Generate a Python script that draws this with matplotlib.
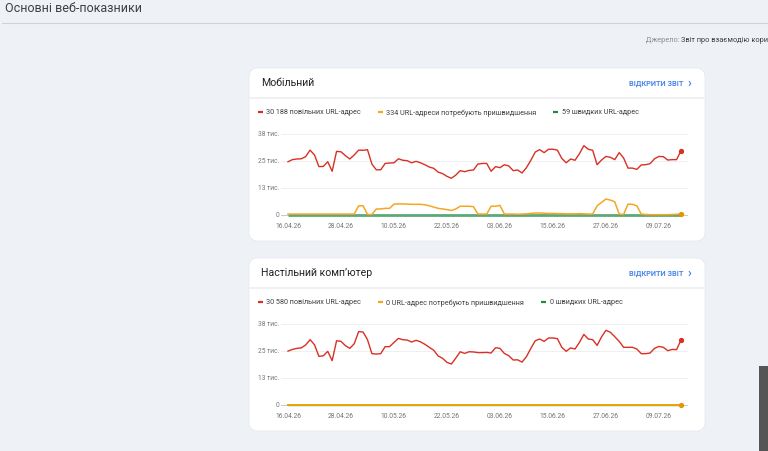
import matplotlib
matplotlib.use("Agg")
import matplotlib.pyplot as plt
from matplotlib.patches import FancyBboxPatch, Rectangle
import numpy as np

plt.rcParams['font.family'] = ['Roboto', 'DejaVu Sans']

# ---------------- data ----------------
x_tick_labels = ["16.04.26", "28.04.26", "10.05.26", "22.05.26",
                 "03.06.26", "15.06.26", "27.06.26", "09.07.26"]
y_tick_labels = ["0", "13 тис.", "25 тис.", "38 тис."]
y_tick_values = [0, 12700, 25400, 38100]

mobile_slow = [25.0, 26.0, 26.3, 26.4, 27.4, 30.5, 28.2, 22.7, 22.8, 25.0,
               20.5, 29.9, 29.7, 27.9, 26.3, 28.2, 30.5, 30.4, 30.7, 23.9,
               21.2, 21.2, 24.2, 24.4, 24.5, 26.4, 25.7, 25.5, 24.5, 25.2,
               24.5, 23.6, 22.5, 21.9, 20.1, 19.4, 18.1, 17.2, 18.7, 20.8,
               20.3, 20.9, 21.1, 23.9, 24.2, 24.2, 20.5, 22.7, 22.2, 23.6,
               23.0, 20.8, 21.1, 19.7, 22.2, 25.7, 29.6, 30.7, 29.3, 30.9,
               30.9, 30.5, 26.6, 24.5, 26.3, 25.7, 28.8, 32.6, 30.9, 30.4,
               23.6, 25.8, 27.5, 27.1, 26.0, 29.3, 26.8, 22.0, 22.0, 21.4,
               23.5, 23.6, 24.1, 26.4, 27.5, 27.4, 25.8, 26.0, 26.0, 30.188]
mobile_needs = [0.3, 0.3, 0.3, 0.3, 0.3, 0.3, 0.3, 0.3, 0.3, 0.3,
                0.3, 0.3, 0.3, 0.3, 0.3, 0.3, 4.2, 4.2, 0.1, 0.1,
                2.7, 2.7, 3.0, 3.0, 5.0, 5.1, 5.1, 5.0, 4.9, 4.9,
                4.9, 4.7, 4.2, 3.6, 3.0, 2.7, 2.4, 2.0, 2.7, 4.0,
                4.0, 4.0, 3.8, 0.3, 0.3, 0.3, 4.0, 4.0, 4.4, 0.3,
                0.3, 0.3, 0.2, 0.3, 0.4, 0.6, 0.8, 0.8, 0.7, 0.6,
                0.6, 0.5, 0.5, 0.4, 0.4, 0.4, 0.5, 0.4, 0.3, 0.3,
                4.2, 5.8, 7.4, 6.9, 6.1, 0.3, 0.1, 5.0, 4.9, 4.2,
                0.3, 0.1, 0.0, 0.0, 0.0, 0.0, 0.0, 0.1, 0.2, 0.334]
mobile_fast = [0.06] * 90

desktop_slow = [25.3, 26.1, 26.6, 26.8, 28.2, 30.7, 28.3, 22.8, 23.1, 25.2,
                20.8, 30.2, 29.9, 27.9, 26.6, 28.8, 34.5, 34.3, 30.7, 24.1,
                23.9, 24.1, 27.4, 27.4, 29.4, 31.3, 30.7, 30.5, 29.6, 30.4,
                29.7, 28.5, 27.1, 25.7, 23.0, 21.9, 20.0, 19.2, 22.0, 25.0,
                24.2, 25.0, 24.9, 24.6, 24.6, 24.7, 24.4, 26.9, 26.6, 24.2,
                23.1, 21.1, 21.2, 20.1, 22.7, 26.6, 30.2, 31.0, 29.9, 31.5,
                31.5, 31.2, 27.1, 25.2, 26.8, 26.3, 29.4, 33.2, 31.0, 30.7,
                28.0, 32.0, 35.1, 34.2, 32.1, 29.9, 27.1, 27.1, 27.1, 26.3,
                24.1, 24.1, 24.4, 26.6, 27.5, 27.1, 25.5, 26.1, 26.0, 30.58]
desktop_needs = [0.0] * 90
desktop_fast = [0.0] * 90

cards = [
    dict(title="Мобільний",
         legend=["30 188 повільних URL-адрес",
                 "334 URL-адреси потребують пришвидшення",
                 "59 швидких URL-адрес"],
         slow=mobile_slow, needs=mobile_needs, fast=mobile_fast),
    dict(title="Настільний комп’ютер",
         legend=["30 580 повільних URL-адрес",
                 "0 URL-адрес потребують пришвидшення",
                 "0 швидких URL-адрес"],
         slow=desktop_slow, needs=desktop_needs, fast=desktop_fast),
]

# ---------------- style ----------------
BG = "#eef1f6"
RED = "#d93025"
ORANGE = "#f5a623"
GREEN = "#5aa977"
BLUE = "#4a86e8"
GRAY_TXT = "#757575"

W, H = 768, 452
fig = plt.figure(figsize=(W / 100, H / 100), dpi=100, facecolor=BG)

bg = fig.add_axes([0, 0, 1, 1])
bg.set_xlim(0, W)
bg.set_ylim(H, 0)
bg.axis("off")
bg.set_facecolor(BG)

bg.text(5, 9, "Основні веб-показники", fontsize=9.0, color="#3c4043",
        va="center", ha="left")
bg.plot([2, W], [24, 24], color="#cfd3d8", lw=0.8)
t1 = bg.text(646, 41, "Джерело: ", fontsize=5.3, color="#8a8f94",
             va="center", ha="left")
bg.annotate("Звіт про взаємодію кори", xy=(1, 0.5),
            xycoords=t1, fontsize=5.3, color="#3c4043", va="center",
            ha="left", annotation_clip=False)

# scroll widget
bg.add_patch(Rectangle((759, 367), 10, 90, color="#555555", lw=0))

card_tops = [69, 259]
card_x, card_w, card_h = 249, 456, 173

for ci, (card, top) in enumerate(zip(cards, card_tops)):
    bg.add_patch(FancyBboxPatch((card_x, top), card_w, card_h,
                                boxstyle="round,pad=0,rounding_size=9",
                                facecolor="white", edgecolor="#e4e7eb",
                                lw=0.5))
    bg.text(261, top + 14, card["title"], fontsize=7.6, color="#202124",
            va="center", ha="left")
    bg.text(629, top + 15, "ВІДКРИТИ ЗВІТ", fontsize=5.3, color=BLUE,
            va="center", ha="left", fontweight="bold")
    bg.text(687, top + 15, "›", fontsize=9, color=BLUE, va="center",
            ha="left", fontweight="bold")
    bg.plot([card_x, card_x + card_w], [top + 30, top + 30],
            color="#eceef1", lw=1.2)

    # legend
    ly = top + 44
    lx = [258, 378, 553 if ci == 0 else 541]
    for lab, col, x0 in zip(card["legend"], [RED, ORANGE, "#1e8e3e"], lx):
        bg.plot([x0, x0 + 5], [ly, ly], color=col, lw=1.6,
                solid_capstyle="butt")
        bg.text(x0 + 8.5, ly, lab, fontsize=5.2, color="#3c4043",
                va="center", ha="left")

    # chart area
    y_zero = top + 146.7
    y_top = top + 66
    px_left, px_right = 281, 688
    pad_top, pad_bot = 3, 2.5
    ax = fig.add_axes([px_left / W, 1 - (y_zero + pad_bot) / H,
                       (px_right - px_left) / W,
                       (y_zero + pad_bot - (y_top - pad_top)) / H])
    per_px = y_tick_values[-1] / (y_zero - y_top)
    ax.set_ylim(-pad_bot * per_px, y_tick_values[-1] + pad_top * per_px)
    n = len(card["slow"])
    days = np.arange(n)
    day_px = (681 - 288) / (n - 1)
    mx = (288 - px_left) / day_px
    ax.set_xlim(-mx, n - 1 + mx)
    ax.axis("off")
    for v, lab in zip(y_tick_values, y_tick_labels):
        ax.axhline(v, color="#c9c9c9" if v == 0 else "#efefef", lw=0.7,
                   zorder=1)
        ax.text(-mx - 0.35, v, lab, fontsize=4.8, color=GRAY_TXT,
                ha="right", va="center")
    for i, lab in enumerate(x_tick_labels):
        ax.text(i * 12, -11 * per_px, lab, fontsize=4.9, color=GRAY_TXT,
                ha="center", va="center")

    slow = np.array(card["slow"]) * 1000
    needs = np.array(card["needs"]) * 1000
    fast = np.array(card["fast"]) * 1000
    has_fast = fast.max() > 0
    if has_fast:
        ax.plot(days, fast, color=GREEN, lw=2.0, zorder=3,
                solid_capstyle="butt")
        ax.plot(days, needs, color=ORANGE, lw=1.1, zorder=4)
    else:
        ax.plot(days, fast, color=GREEN, lw=1.0, zorder=3)
        ax.plot(days, needs, color="#eca200", lw=1.4, zorder=4)
    ax.plot(days, slow, color=RED, lw=1.0, zorder=5)
    ax.plot(days[-1], needs[-1], "o", color="#e69500", ms=2.8, zorder=6,
            clip_on=False)
    ax.plot(days[-1], slow[-1], "o", color=RED, ms=2.8, zorder=6,
            clip_on=False)

fig.savefig("out.png", dpi=100, facecolor=BG)
